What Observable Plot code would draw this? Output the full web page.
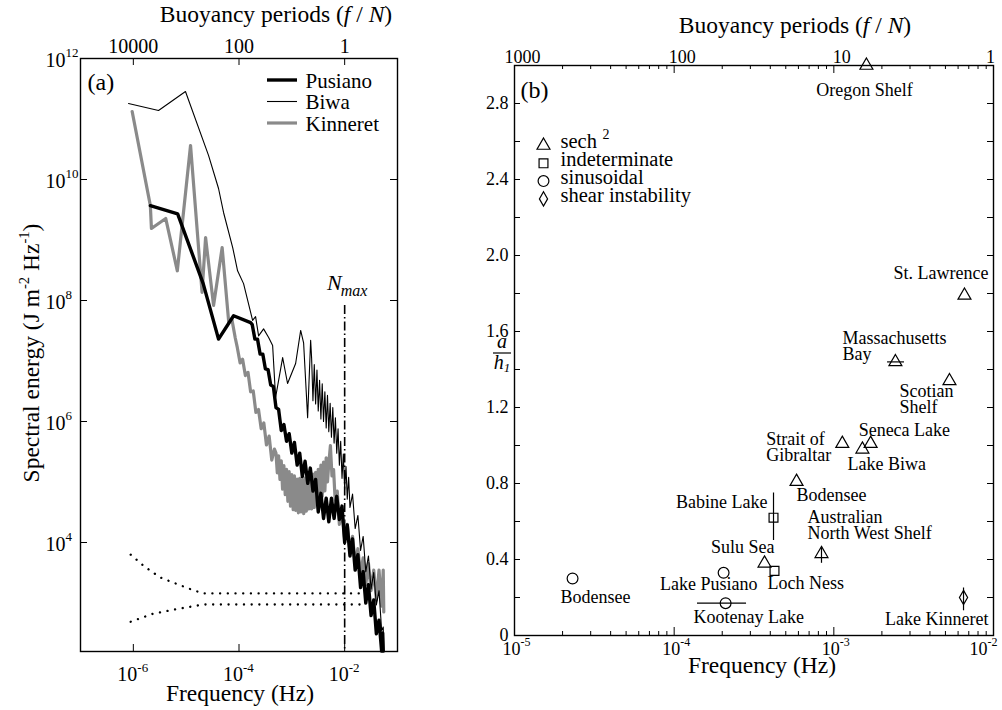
<!DOCTYPE html>
<html><head><meta charset="utf-8">
<script src="https://cdn.jsdelivr.net/npm/d3@7"></script>
<script src="https://cdn.jsdelivr.net/npm/@observablehq/plot@0.6"></script>
<style>
body{margin:0;background:#fff;font-family:"Liberation Serif","Times New Roman",serif;}
#wrap{position:relative;width:1002px;height:710px;overflow:hidden;background:#fff;}
</style></head><body><div id="wrap"></div>
<script>
// ================= Panel (a): spectral energy [frequency Hz, J m^-2 Hz^-1] =================
const pusiano = [[2.1e-6,3.7e9],[6.9e-6,2.7e9],[2.1e-5,1.9e8],[4.1e-5,2.3e7],[7.9e-5,5.6e7],[1.66e-4,4.3e7],
 [1.78e-4,4.0e7],[2.0e-4,2.3e7],[2.24e-4,2.3e7],[2.51e-4,1.3e7],[2.82e-4,1.3e7],[3.16e-4,7.4e6],[3.55e-4,7.2e6],
 [3.98e-4,4.0e6],[4.47e-4,3.8e6],[5.01e-4,1.7e6],[5.62e-4,1.58e6],[6.31e-4,7.1e5],[7.08e-4,8.9e5],[7.94e-4,4.7e5],
 [8.91e-4,6.3e5],[1.0e-3,3.0e5],[1.12e-3,4.5e5],[1.26e-3,1.9e5],[1.41e-3,3.0e5],[1.58e-3,1.23e5],[1.78e-3,2.2e5],
 [2.0e-3,9.5e4],[2.24e-3,1.7e5],[2.51e-3,7.1e4],[2.82e-3,1.1e5],[3.16e-3,3.2e4],[3.55e-3,6.5e4],[3.98e-3,2.5e4],
 [4.47e-3,5.4e4],[5.01e-3,2.2e4],[5.62e-3,5.4e4],[6.31e-3,2.5e4],[7.08e-3,5.8e4],[7.94e-3,2.4e4],[8.91e-3,4.0e4],
 [1.0e-2,1.0e4],[1.12e-2,1.95e4],[1.26e-2,6.0e3],[1.41e-2,1.15e4],[1.58e-2,3.5e3],[1.78e-2,6.3e3],[2.0e-2,1.8e3],
 [2.24e-2,3.3e3],[2.51e-2,1.0e3],[2.82e-2,2.0e3],[3.16e-2,620],[3.55e-2,1.12e3],[3.98e-2,310],[4.47e-2,520],
 [5.01e-2,160],[5.25e-2,320],[5.37e-2,160]];
const biwa = [[8.1e-7,1.8e11],[3.0e-6,1.38e11],[9.7e-6,2.85e11],[2.65e-5,2.5e10],[4.1e-5,7.1e9],[5.1e-5,2.85e9],
 [7.6e-5,7.5e8],[9.4e-5,3.1e8],[1.22e-4,1.9e8],[1.81e-4,4.7e7],[2.06e-4,5.4e7],[2.35e-4,2.6e7],[2.92e-4,3.4e7],
 [3.64e-4,2.45e7],[4.33e-4,1.8e7],[4.93e-4,2.5e6],[6.7e-4,1.14e7],[8.3e-4,4.25e6],[1.18e-3,9.1e6],[1.47e-3,3.2e7],
 [1.67e-3,2.0e7],[1.99e-3,1.16e6],[2.27e-3,2.2e7],
 [2.37e-3,1.1e7],[2.51e-3,2.2e6],[2.66e-3,8.7e6],[2.82e-3,1.95e6],[2.99e-3,7.1e6],[3.16e-3,1.5e6],[3.35e-3,4.8e6],
 [3.55e-3,1.1e6],[3.76e-3,4.2e6],[3.98e-3,1.0e6],[4.22e-3,3.1e6],[4.47e-3,7.8e5],[4.73e-3,2.7e6],[5.01e-3,6.8e5],
 [5.31e-3,2.0e6],[5.62e-3,5.5e5],[5.96e-3,1.7e6],[6.31e-3,4.4e5],[6.68e-3,1.15e6],[7.08e-3,3.0e5],[7.5e-3,7.6e5],
 [7.94e-3,1.9e5],[8.41e-3,4.7e5],[8.91e-3,1.15e5],[9.44e-3,2.9e5],[1.0e-2,7.6e4],[1.06e-2,1.8e5],[1.12e-2,5.2e4],
 [1.19e-2,1.2e5],[1.26e-2,3.8e4],[1.41e-2,6.3e4],[1.58e-2,1.7e4],[1.78e-2,2.8e4],[2.0e-2,7.4e3],[2.24e-2,1.26e4],
 [2.51e-2,3.3e3],[2.82e-2,6.0e3],[3.16e-2,1.7e3],[3.55e-2,3.2e3],[3.98e-2,930],[4.47e-2,1.6e3],[5.01e-2,350],
 [5.37e-2,400],[5.5e-2,160]];
const kinneret = [[9.5e-7,1.33e11],[2.1e-6,3.7e9],[2.2e-6,1.55e9],[4.1e-6,2.27e9],[6.8e-6,3.1e8],[1.21e-5,3.65e10],
 [2.0e-5,1.36e8],[2.33e-5,1.1e9],[3.3e-5,8.3e7],[4.8e-5,7.5e8],[6.4e-5,4.3e7],[7.3e-5,5.0e7],[8.5e-5,2.4e7],
 [9.3e-5,1.66e7],[1.05e-4,9.3e6],[1.17e-4,1.07e7],[1.32e-4,5.75e6],[1.48e-4,6.5e6],[1.66e-4,3.1e6],[1.86e-4,3.2e6],
 [2.09e-4,1.41e6],[2.34e-4,1.58e6],[2.63e-4,7.6e5],[2.95e-4,9.5e5],[3.31e-4,4.1e5],[3.72e-4,5.75e5],[4.17e-4,2.3e5],
 [4.68e-4,3.5e5],
 [5.01e-4,3.0e5],[5.31e-4,1.41e5],[5.62e-4,2.7e5],[5.96e-4,1.1e5],[6.31e-4,2.24e5],[6.68e-4,7.6e4],[7.08e-4,1.86e5],
 [7.5e-4,6.2e4],[7.94e-4,1.62e5],[8.41e-4,4.8e4],[8.91e-4,1.48e5],[9.44e-4,4.0e4],[1.0e-3,1.32e5],[1.06e-3,3.5e4],
 [1.12e-3,1.26e5],[1.19e-3,3.4e4],[1.26e-3,1.12e5],[1.33e-3,3.1e4],[1.41e-3,1.15e5],[1.5e-3,3.2e4],[1.58e-3,1.1e5],
 [1.68e-3,3.0e4],[1.78e-3,1.17e5],[1.88e-3,3.3e4],[2.0e-3,1.23e5],[2.11e-3,3.6e4],[2.24e-3,1.29e5],[2.37e-3,3.6e4],
 [2.51e-3,1.35e5],[2.66e-3,3.8e4],[2.82e-3,1.45e5],[2.99e-3,4.2e4],[3.16e-3,1.62e5],[3.35e-3,4.8e4],[3.55e-3,1.9e5],
 [3.76e-3,5.8e4],[3.98e-3,2.14e5],[4.22e-3,7.1e4],[4.47e-3,2.5e5],[4.73e-3,1.0e5],
 [5.0e-3,2.0e5],[5.37e-3,4.0e5],[5.75e-3,1.26e5],[6.17e-3,1.6e5],[6.61e-3,5.0e4],[7.24e-3,7.1e4],[7.94e-3,2.0e4],
 [8.91e-3,3.5e4],[1.0e-2,1.12e4],[1.12e-2,2.0e4],[1.26e-2,7.1e3],[1.41e-2,1.26e4],[1.58e-2,4.5e3],[1.78e-2,7.9e3],
 [2.0e-2,3.0e3],[2.24e-2,5.6e3],[2.51e-2,2.0e3],[2.82e-2,4.5e3],[3.16e-2,1.6e3],[3.55e-2,3.5e3],[3.98e-2,1.12e3],
 [4.47e-2,3.5e3],[5.01e-2,890],[5.37e-2,3.5e3],[5.5e-2,710]];
const confUpper = [[8.9e-7,6300],[1.63e-6,4000],[3.27e-6,2630],[6.9e-6,2040],[1.38e-5,1620],[2.14e-5,1440],[2.4e-2,1440]];
const confLower = [[8.9e-7,490],[2.3e-6,660],[6.9e-6,800],[2.14e-5,945],[2.4e-2,945]];
const nmaxFreq = 1e-2;
const seriesNames = ["Pusiano","Biwa","Kinneret"];
const aFreqTicks = [1e-6, 1e-4, 1e-2];
const aFreqExp = ["-6","-4","-2"];
const aPeriodLabels = ["10000","100","1"];
const aEnergyTicks = [1e4, 1e6, 1e8, 1e10, 1e12];
const aEnergyExp = ["4","6","8","10","12"];

// ================= Panel (b): a/h1 vs frequency =================
const siteNames = ["Oregon Shelf","St. Lawrence","Massachusetts\nBay","Scotian\nShelf","Strait of\nGibraltar",
 "Seneca Lake","Lake Biwa","Bodensee","Babine Lake","Australian\nNorth West Shelf","Sulu Sea","Loch Ness",
 "Lake Pusiano","Bodensee","Kootenay Lake","Lake Kinneret"];
const siteFreq = [1.6e-3,6.58e-3,2.43e-3,5.3e-3,1.13e-3,1.7e-3,1.51e-3,5.84e-4,4.19e-4,8.37e-4,3.68e-4,4.25e-4,
 2.04e-4,2.31e-5,2.1e-4,6.49e-3];
const siteRatio = [3.0,1.79,1.44,1.34,1.01,1.01,0.98,0.81,0.62,0.43,0.38,0.34,0.33,0.30,0.17,0.20];
const siteShape = ["sech2","sech2","sech2","sech2","sech2","sech2","sech2","sech2","indeterminate","sech2","sech2",
 "indeterminate","sinusoidal","sinusoidal","sinusoidal","shear"];
const freqErrSite = [2, 14];
const freqErrLo = [2.17e-3, 1.4e-4];
const freqErrHi = [2.77e-3, 2.84e-4];
const ratioErrSite = [8, 9, 15];
const ratioErrLo = [0.50, 0.38, 0.13];
const ratioErrHi = [0.75, 0.46, 0.25];
const shapeKeys = ["sech2","indeterminate","sinusoidal","shear"];
const shapeLabels = ["sech","indeterminate","sinusoidal","shear instability"];
const bFreqTicks = [1e-5, 1e-4, 1e-3, 1e-2];
const bFreqExp = ["-5","-4","-3","-2"];
const bPeriodLabels = ["1000","100","10","1"];
const bRatioTicks = [0, 0.4, 0.8, 1.2, 1.6, 2.0, 2.4, 2.8];
const bRatioLabels = ["0","0.4","0.8","1.2","1.6","2.0","2.4","2.8"];

// ---------------- layout / style (not data) ----------------
const FONT = "Liberation Serif";
const seriesStyle = [{stroke:"#000", w:3.4}, {stroke:"#000", w:1.1}, {stroke:"#8a8a8a", w:3.2}];
const symbolOf = {sech2:"triangle", indeterminate:"square", sinusoidal:"circle", shear:"diamond"};
const rOf = {sech2:4.8, indeterminate:5.0, sinusoidal:5.4, shear:4.3};
const labelPos = [[-2,30,"middle"],[24,-16,"end"],[-53,-2,"start"],[-50,32,"start"],[-76,17,"start"],
 [-12,-8,"start"],[-15,21,"start"],[0,19,"start"],[-6,-10,"end"],[-14,-15,"start"],[10,-10,"end"],
 [-7,18,"start"],[34,17,"end"],[-12,24,"start"],[-32,20,"start"],[25,27,"end"]];

const wrap = document.getElementById("wrap");

// ---------------- Panel (a) ----------------
const aW = 470, aH = 710, aML = 80, aMR = 73, aMT = 58, aMB = 59;
const aFW = aW - aML - aMR, aFH = aH - aMT - aMB;
const xy = {x: d => d[0], y: d => d[1]};
const plotA = Plot.plot({
  width: aW, height: aH, marginLeft: aML, marginRight: aMR, marginTop: aMT, marginBottom: aMB,
  x: {type: "log", domain: [1e-7, 1e-1], axis: null},
  y: {type: "log", domain: [158, 1e12], axis: null},
  style: {fontFamily: FONT, background: "transparent", color: "#000", overflow: "visible"},
  marks: [
    Plot.line(confUpper, {...xy, stroke: "#000", strokeWidth: 2.3, strokeDasharray: "0.1,7.6", strokeLinecap: "round"}),
    Plot.line(confLower, {...xy, stroke: "#000", strokeWidth: 2.3, strokeDasharray: "0.1,7.6", strokeLinecap: "round"}),
    Plot.tickX([nmaxFreq], {x: d => d, insetTop: 247, stroke: "#000", strokeWidth: 1.6, strokeDasharray: "9,3,1.5,3"}),
    Plot.line(kinneret, {...xy, stroke: seriesStyle[2].stroke, strokeWidth: seriesStyle[2].w}),
    Plot.line(pusiano, {...xy, stroke: seriesStyle[0].stroke, strokeWidth: seriesStyle[0].w}),
    Plot.line(biwa, {...xy, stroke: seriesStyle[1].stroke, strokeWidth: seriesStyle[1].w}),
    Plot.frame({stroke: "#000", strokeWidth: 1.4}),
    Plot.tickX(aFreqTicks, {x: d => d, insetTop: aFH - 7, stroke: "#000"}),
    Plot.tickX(aFreqTicks, {x: d => d, insetBottom: aFH - 7, stroke: "#000"}),
    Plot.tickY(aEnergyTicks, {y: d => d, insetRight: aFW - 7, stroke: "#000"}),
    Plot.tickY(aEnergyTicks, {y: d => d, insetLeft: aFW - 7, stroke: "#000"}),
    Plot.text(aFreqTicks, {x: d => d, frameAnchor: "bottom", text: () => "10", textAnchor: "end", lineAnchor: "bottom", dx: 4, dy: 29, fontSize: 20}),
    Plot.text(aFreqTicks, {x: d => d, frameAnchor: "bottom", text: (d, i) => aFreqExp[i], textAnchor: "start", lineAnchor: "bottom", dx: 4, dy: 20, fontSize: 13}),
    Plot.text(aFreqTicks, {x: d => d, frameAnchor: "top", text: (d, i) => aPeriodLabels[i], textAnchor: "middle", lineAnchor: "bottom", dy: -6, fontSize: 20}),
    Plot.text(aEnergyTicks, {y: d => d, frameAnchor: "left", text: () => "10", textAnchor: "end", lineAnchor: "bottom", dx: -15, dy: 8, fontSize: 20}),
    Plot.text(aEnergyTicks, {y: d => d, frameAnchor: "left", text: (d, i) => aEnergyExp[i], textAnchor: "start", lineAnchor: "bottom", dx: -15, dy: -2, fontSize: 13}),
    Plot.text([nmaxFreq], {x: d => d, frameAnchor: "top", text: () => "N", textAnchor: "end", lineAnchor: "bottom", fontStyle: "italic", dx: -3, dy: 231, fontSize: 22}),
    Plot.text([nmaxFreq], {x: d => d, frameAnchor: "top", text: () => "max", textAnchor: "start", lineAnchor: "bottom", fontStyle: "italic", dx: -4, dy: 237, fontSize: 16}),
    Plot.text(["(a)"], {frameAnchor: "top-left", text: d => d, textAnchor: "start", lineAnchor: "bottom", dx: 7, dy: 31, fontSize: 24}),
    ...seriesNames.map((name, i) => Plot.text([name], {frameAnchor: "top-left", text: d => d, textAnchor: "start", lineAnchor: "bottom", dx: 225, dy: 29 + i * 21.5, fontSize: 21}))
  ]
});
plotA.style.position = "absolute"; plotA.style.left = "0px"; plotA.style.top = "0px";
wrap.append(plotA);

// ---------------- Panel (b) ----------------
const bW = 532, bH = 710, bML = 44, bMR = 9, bMT = 65, bMB = 75;
const bFW = bW - bML - bMR, bFH = bH - bMT - bMB;
const sites = siteNames.map((name, i) => ({name, freq: siteFreq[i], ratio: siteRatio[i], shape: siteShape[i]}));
const freqErr = freqErrSite.map((s, i) => ({ratio: siteRatio[s], lo: freqErrLo[i], hi: freqErrHi[i]}));
const ratioErr = ratioErrSite.map((s, i) => ({freq: siteFreq[s], lo: ratioErrLo[i], hi: ratioErrHi[i]}));
const minorFreq = [1e-5, 1e-4, 1e-3].flatMap(b => d3.range(2, 10).map(k => k * b));
const ratioTickAll = d3.range(1, 15).map(k => k * 0.2);
const plotB = Plot.plot({
  width: bW, height: bH, marginLeft: bML, marginRight: bMR, marginTop: bMT, marginBottom: bMB,
  x: {type: "log", domain: [1e-5, 1e-2], axis: null},
  y: {domain: [0, 3.0], axis: null},
  style: {fontFamily: FONT, background: "transparent", color: "#000", overflow: "visible"},
  marks: [
    Plot.frame({stroke: "#000", strokeWidth: 1.4}),
    Plot.tickX(bFreqTicks, {x: d => d, insetTop: bFH - 8, stroke: "#000"}),
    Plot.tickX(bFreqTicks, {x: d => d, insetBottom: bFH - 8, stroke: "#000"}),
    Plot.tickX(minorFreq, {x: d => d, insetTop: bFH - 4, stroke: "#000"}),
    Plot.tickX(minorFreq, {x: d => d, insetBottom: bFH - 4, stroke: "#000"}),
    Plot.tickY(ratioTickAll, {y: d => d, insetRight: bFW - 6, stroke: "#000"}),
    Plot.tickY(ratioTickAll, {y: d => d, insetLeft: bFW - 6, stroke: "#000"}),
    Plot.text(bRatioTicks, {y: d => d, frameAnchor: "left", text: (d, i) => bRatioLabels[i], textAnchor: "end", lineAnchor: "middle", dx: -6, fontSize: 18}),
    Plot.text(bFreqTicks.slice(0, 3), {x: d => d, frameAnchor: "bottom", text: () => "10", textAnchor: "end", lineAnchor: "bottom", dx: 6, dy: 19, fontSize: 18}),
    Plot.text(bFreqTicks.slice(0, 3), {x: d => d, frameAnchor: "bottom", text: (d, i) => bFreqExp[i], textAnchor: "start", lineAnchor: "bottom", dx: 6, dy: 10, fontSize: 12}),
    Plot.text(bFreqTicks.slice(3), {x: d => d, frameAnchor: "bottom", text: () => "10", textAnchor: "end", lineAnchor: "bottom", dx: -6, dy: 19, fontSize: 18}),
    Plot.text(bFreqTicks.slice(3), {x: d => d, frameAnchor: "bottom", text: () => bFreqExp[3], textAnchor: "start", lineAnchor: "bottom", dx: -6, dy: 10, fontSize: 12}),
    Plot.text(bFreqTicks.slice(0, 3), {x: d => d, frameAnchor: "top", text: (d, i) => bPeriodLabels[i], textAnchor: "middle", lineAnchor: "bottom", dx: 8, dy: -3, fontSize: 18}),
    Plot.text(bFreqTicks.slice(3), {x: d => d, frameAnchor: "top", text: () => bPeriodLabels[3], textAnchor: "middle", lineAnchor: "bottom", dx: -3, dy: -3, fontSize: 18}),
    Plot.ruleY(freqErr, {y: "ratio", x1: "lo", x2: "hi", stroke: "#000", strokeWidth: 1.2}),
    Plot.ruleX(ratioErr, {x: "freq", y1: "lo", y2: "hi", stroke: "#000", strokeWidth: 1.2}),
    ...shapeKeys.map(k => Plot.dot(sites.filter(d => d.shape === k), {x: "freq", y: "ratio", symbol: symbolOf[k], r: rOf[k], fill: "none", stroke: "#000", strokeWidth: 1.2})),
    ...sites.map((s, i) => Plot.text([s], {x: "freq", y: "ratio", text: "name", dx: labelPos[i][0], dy: labelPos[i][1], textAnchor: labelPos[i][2], lineAnchor: "bottom", lineHeight: 0.86, fontSize: 18})),
    Plot.text(["(b)"], {frameAnchor: "top-left", text: d => d, textAnchor: "start", lineAnchor: "bottom", dx: 6, dy: 32, fontSize: 24}),
    ...shapeKeys.map((k, i) => Plot.dot([k], {frameAnchor: "top-left", symbol: symbolOf[k], r: rOf[k], fill: "none", stroke: "#000", strokeWidth: 1.2, dx: 29, dy: 80 + i * 17.8})),
    ...shapeLabels.map((t, i) => Plot.text([t], {frameAnchor: "top-left", text: d => d, textAnchor: "start", lineAnchor: "bottom", dx: 46, dy: 82 + i * 18.3, fontSize: 20.5})),
    Plot.text(["2"], {frameAnchor: "top-left", text: d => d, textAnchor: "start", lineAnchor: "bottom", dx: 88, dy: 73, fontSize: 14})
  ]
});
plotB.style.position = "absolute"; plotB.style.left = aW + "px"; plotB.style.top = "0px";
wrap.append(plotB);

// ---------------- titles & legend line samples (overlay) ----------------
const ov = d3.select(wrap).append("svg").attr("width", 1002).attr("height", 710)
  .style("position", "absolute").style("left", "0px").style("top", "0px")
  .attr("font-family", FONT).attr("fill", "#000");
function title(x, y, parts, size, rotate) {
  const t = ov.append("text").attr("text-anchor", "middle").attr("font-size", size);
  if (rotate) t.attr("transform", `translate(${x},${y}) rotate(-90)`); else t.attr("x", x).attr("y", y);
  parts.forEach(p => {
    const s = t.append("tspan").text(p.t);
    if (p.i) s.attr("font-style", "italic");
    if (p.sup) s.attr("font-size", size * 0.62).attr("dy", -size * 0.42);
    if (p.down) s.attr("dy", size * 0.42);
  });
}
title(276, 22, [{t: "Buoyancy periods ("}, {t: "f", i: 1}, {t: " / "}, {t: "N", i: 1}, {t: ")"}], 23.5);
title(795, 33, [{t: "Buoyancy periods ("}, {t: "f", i: 1}, {t: " / "}, {t: "N", i: 1}, {t: ")"}], 23.5);
title(240, 701, [{t: "Frequency (Hz)"}], 23.5);
title(762, 673, [{t: "Frequency (Hz)"}], 23.5);
title(39, 353, [{t: "Spectral energy (J m"}, {t: "-2", sup: 1}, {t: " Hz", down: 1}, {t: "-1", sup: 1}, {t: ")", down: 1}], 23.5, true);
// a / h1
ov.append("text").attr("x", 502).attr("y", 348).attr("text-anchor", "middle").attr("font-size", 20).attr("font-style", "italic").text("a");
ov.append("line").attr("x1", 493).attr("x2", 511).attr("y1", 353).attr("y2", 353).attr("stroke", "#000").attr("stroke-width", 1.2);
const h1 = ov.append("text").attr("x", 502).attr("y", 369).attr("text-anchor", "middle").attr("font-size", 20).attr("font-style", "italic");
h1.append("tspan").text("h"); h1.append("tspan").text("1").attr("font-size", 13).attr("dy", 3);
// legend (a) line samples
seriesStyle.forEach((s, i) => ov.append("line").attr("x1", 267).attr("x2", 297).attr("y1", 80 + i * 21.5).attr("y2", 80 + i * 21.5)
  .attr("stroke", s.stroke).attr("stroke-width", s.w));
</script></body></html>
